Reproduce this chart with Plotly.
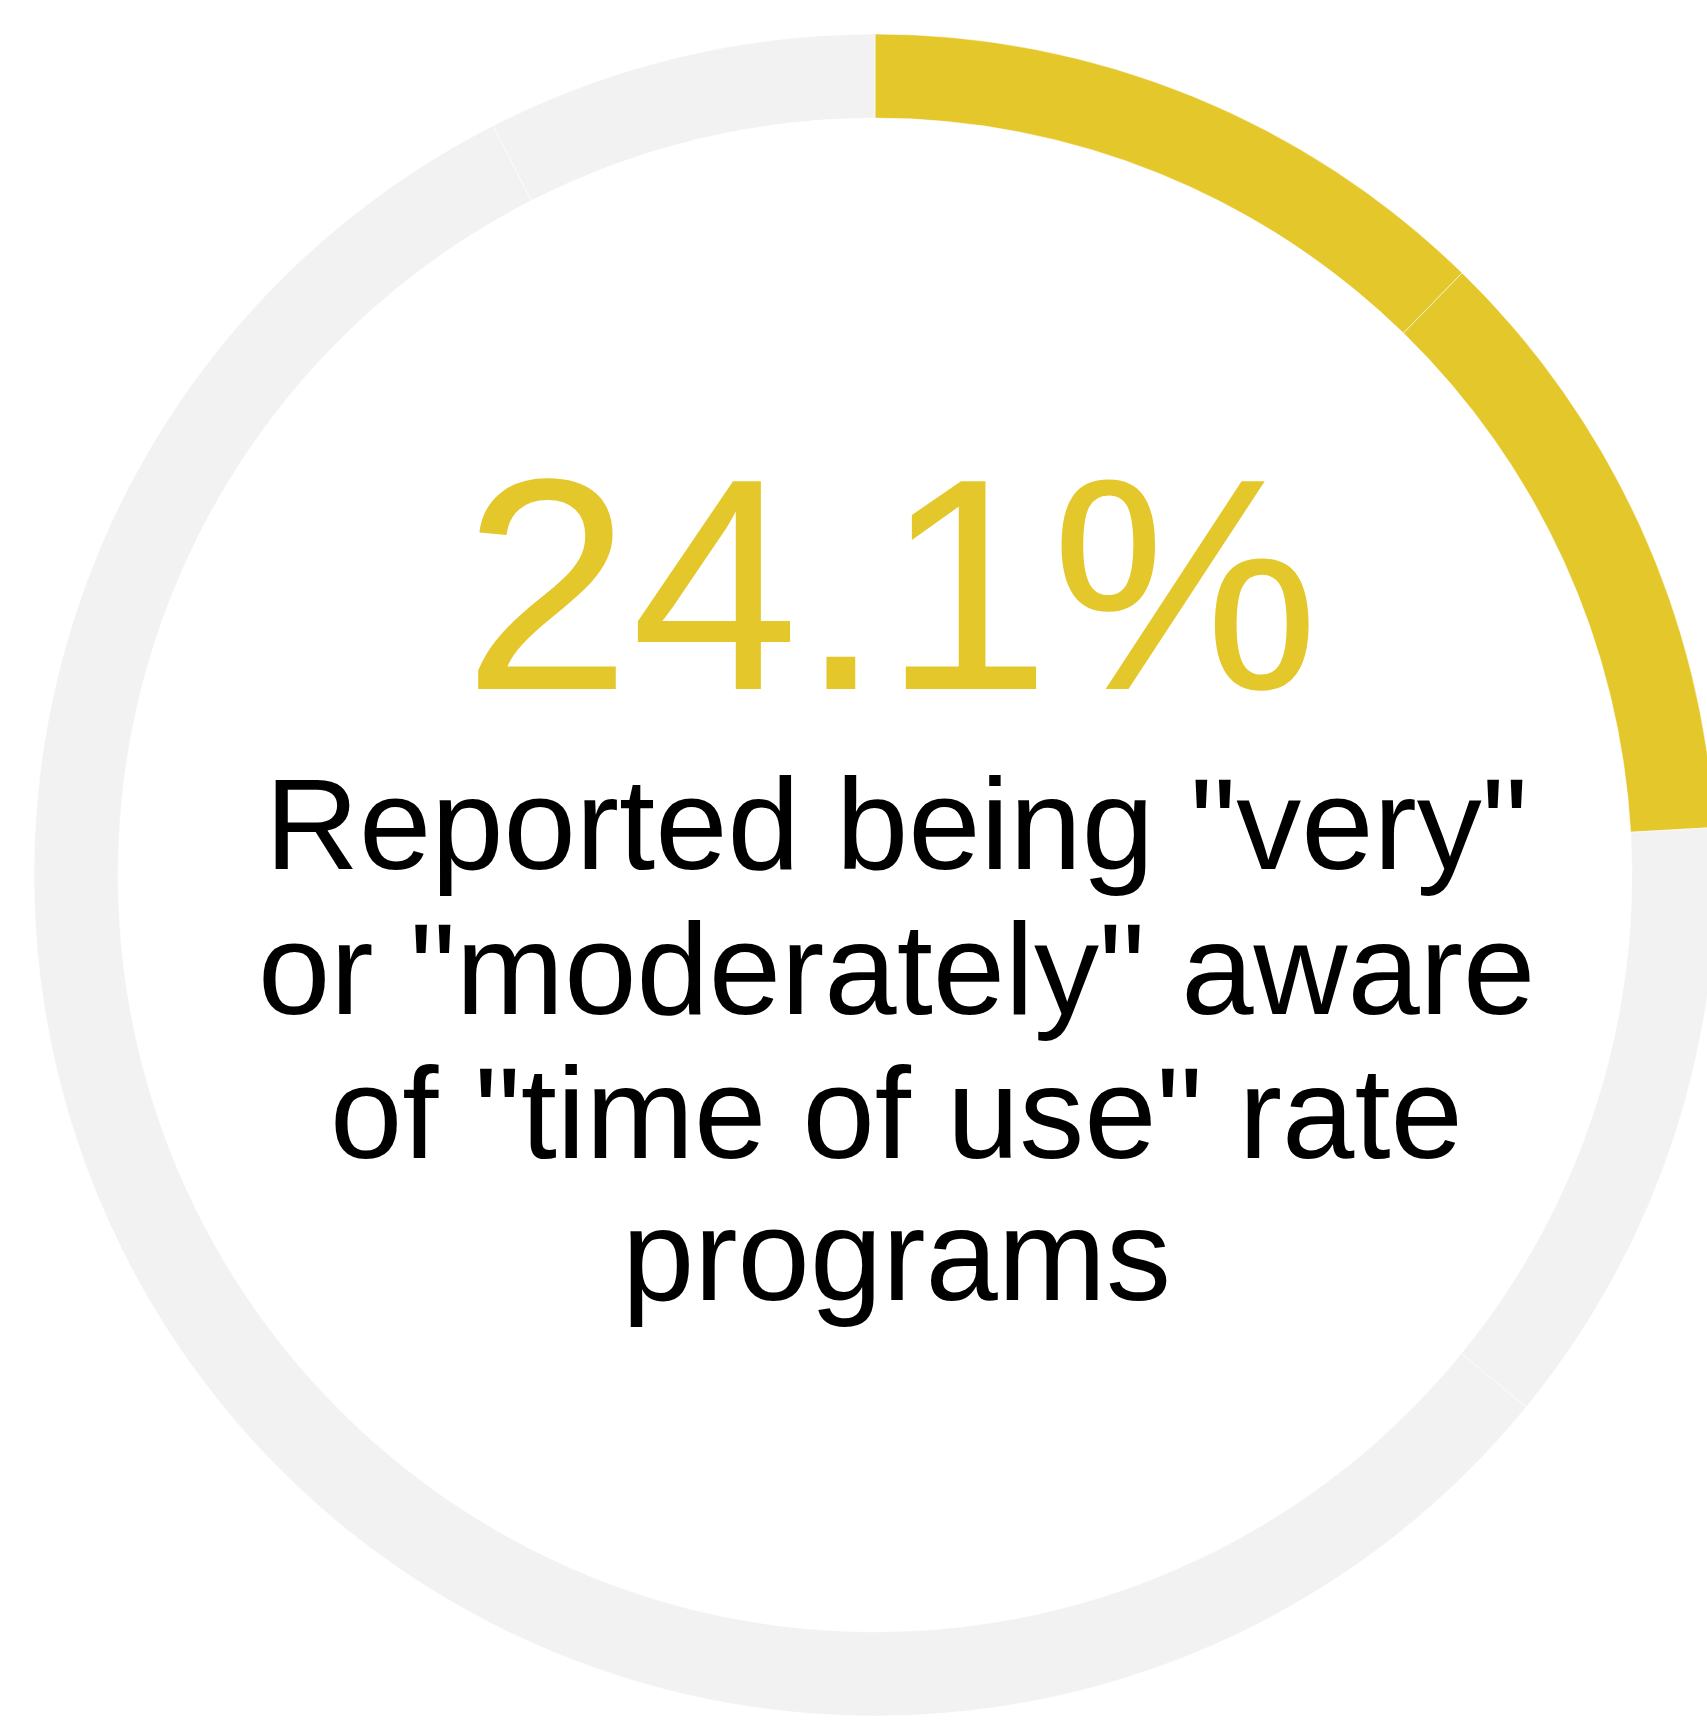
import plotly.graph_objects as go

# Awareness of "time of use" rate programs (share of respondents, %)
categories = ["Very aware", "Moderately aware", "Somewhat aware", "Not at all aware", "Not sure"]
shares = [12.3, 11.8, 11.8, 56.6, 7.5]
slice_colors = ["#E4C72B", "#E4C72B", "#F2F2F2", "#F2F2F2", "#F2F2F2"]

headline = "24.1%"
caption_lines = [
    'Reported being "very"',
    'or "moderately" aware',
    'of "time of use" rate',
    "programs",
]

FONT = "Liberation Sans, Arial, sans-serif"
W = H = 1750
M_L = M_R = 34
M_T = M_B = 33
plot_w = W - M_L - M_R
plot_h = H - M_T - M_B


def px_x(x):
    return (x - M_L) / plot_w


def px_y(y):
    return (H - M_B - y) / plot_h


fig = go.Figure(
    go.Pie(
        labels=categories,
        values=shares,
        sort=False,
        direction="clockwise",
        rotation=0,
        hole=0.9,
        textinfo="none",
        hoverinfo="label+percent",
        marker=dict(colors=slice_colors, line=dict(color="rgba(255,255,255,0.55)", width=1)),
        showlegend=False,
    )
)

head_size = 302
annotations = [
    dict(
        text=headline,
        x=px_x(891), y=px_y(684 - 0.3305 * head_size),
        xref="paper", yref="paper",
        xanchor="center", yanchor="middle",
        showarrow=False,
        font=dict(family=FONT, size=head_size, color="#E4C72B"),
    )
]

# caption set line by line, baselines ~144 px apart
baselines = [867, 1012, 1156, 1298]
cap_size = 130
for line, base in zip(caption_lines, baselines):
    annotations.append(
        dict(
            text=line,
            x=px_x(896), y=px_y(base - 0.3305 * cap_size),
            xref="paper", yref="paper",
            xanchor="center", yanchor="middle",
            showarrow=False,
            font=dict(family=FONT, size=cap_size, color="#000000"),
        )
    )

fig.update_layout(
    width=W,
    height=H,
    margin=dict(l=M_L, r=M_R, t=M_T, b=M_B, pad=0),
    paper_bgcolor="white",
    plot_bgcolor="white",
    annotations=annotations,
)

fig.write_html(
    "out.html",
    post_script="document.body.style.margin='0';document.body.style.overflow='hidden';",
)
